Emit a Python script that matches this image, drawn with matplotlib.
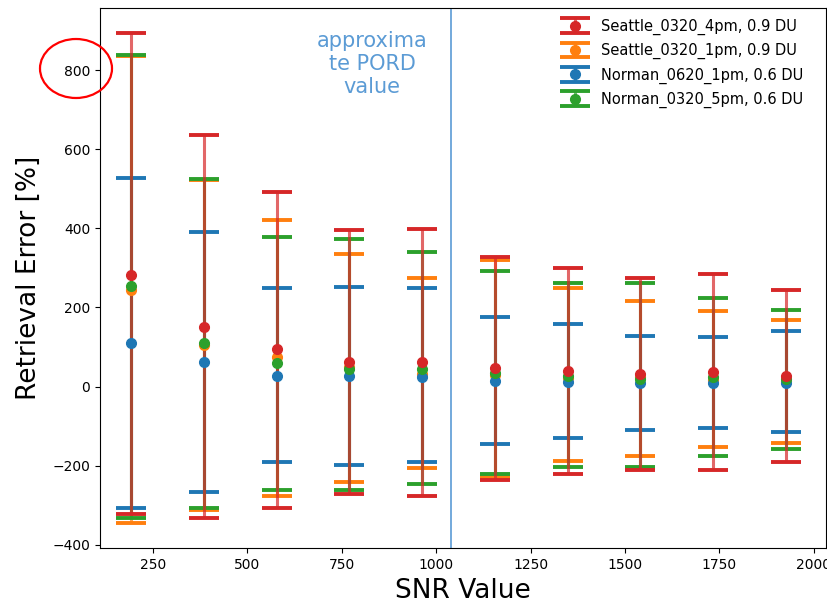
import numpy as np
import matplotlib
matplotlib.use("Agg")
import matplotlib.pyplot as plt
from matplotlib.patches import Ellipse


# valores de SNR (eje x)
snr = [192, 385, 578, 770, 962, 1155, 1348, 1540, 1732, 1925]

# Seattle_0320_4pm, 0.9 DU
sea4_mean = [283, 150, 95, 61, 62, 46, 40, 32, 36, 27]
sea4_upper = [893, 635, 492, 396, 399, 328, 299, 274, 285, 243]
sea4_lower = [-322, -333, -306, -272, -276, -236, -220, -210, -212, -190]

# Seattle_0320_1pm, 0.9 DU
sea1_mean = [244, 105, 74, 50, 32, 30, 21, 24, 17, 14]
sea1_upper = [836, 523, 421, 336, 274, 320, 248, 217, 191, 169]
sea1_lower = [-345, -312, -276, -242, -206, -228, -187, -176, -153, -142]

# Norman_0620_1pm, 0.6 DU
nor6_mean = [110, 63, 28, 27, 25, 14, 12, 10, 8, 8]
nor6_upper = [528, 392, 248, 252, 248, 177, 158, 128, 125, 140]
nor6_lower = [-307, -267, -191, -198, -191, -146, -131, -109, -105, -116]

# Norman_0320_5pm, 0.6 DU
nor3_mean = [255, 110, 59, 45, 45, 35, 27, 20, 25, 19]
nor3_upper = [838, 525, 377, 373, 340, 291, 263, 263, 225, 194]
nor3_lower = [-331, -308, -261, -261, -246, -220, -202, -202, -176, -157]

pord_snr = 1040

labels = ["Seattle_0320_4pm, 0.9 DU", "Seattle_0320_1pm, 0.9 DU",
          "Norman_0620_1pm, 0.6 DU", "Norman_0320_5pm, 0.6 DU"]

# orden de dibujo: el rojo queda encima
series = [
    (sea1_mean, sea1_upper, sea1_lower, "tab:orange", labels[1]),
    (nor6_mean, nor6_upper, nor6_lower, "tab:blue", labels[2]),
    (nor3_mean, nor3_upper, nor3_lower, "tab:green", labels[3]),
    (sea4_mean, sea4_upper, sea4_lower, "tab:red", labels[0]),
]

fig = plt.figure(figsize=(8.28, 6.03), dpi=100)
ax = fig.add_axes([0.1208, 0.0912, 0.8768, 0.8955])

for mean, upper, lower, color, label in series:
    mean = np.array(mean)
    yerr = [mean - np.array(lower), np.array(upper) - mean]
    eb = ax.errorbar(snr, mean, yerr=yerr, fmt="o", color=color, ecolor=color,
                     elinewidth=2.2, capsize=11, capthick=2.8, markersize=7,
                     label=label)
    eb[2][0].set_alpha(0.7)

# linea vertical del valor PORD
ax.axvline(pord_snr, color="#5b9bd5", lw=1.2)
ax.text(830, 815, "approxima\nte PORD\nvalue", color="#5b9bd5", fontsize=15,
        ha="center", va="center", multialignment="center")

ax.set_xlim(110, 2032)
ax.set_ylim(-408, 957)
ax.set_xticks([250, 500, 750, 1000, 1250, 1500, 1750, 2000])
ax.set_yticks([-400, -200, 0, 200, 400, 600, 800])

ax.set_xlabel("SNR Value", fontsize=19)
ax.set_ylabel("Retrieval Error [%]", fontsize=19)
ax.xaxis.set_label_coords(0.5, -0.055)
ax.yaxis.set_label_coords(-0.08, 0.5)

# leyenda en el orden original
handles, labs = ax.get_legend_handles_labels()
order = [labs.index(l) for l in labels]
ax.legend([handles[i] for i in order], [labs[i] for i in order],
          loc="upper right", bbox_to_anchor=(0.977, 0.991), borderaxespad=0,
          frameon=False, fontsize=10.5, labelspacing=0.56,
          handlelength=2.1, handletextpad=0.75)

# circulo rojo alrededor de la etiqueta 800
fig.add_artist(Ellipse((76 / 828, 1 - 68.5 / 603), 72 / 828, 59 / 603,
                       transform=fig.transFigure, fill=False,
                       edgecolor="red", lw=1.6, clip_on=False))

plt.savefig("out.png")
print("Figura guardada como out.png")
